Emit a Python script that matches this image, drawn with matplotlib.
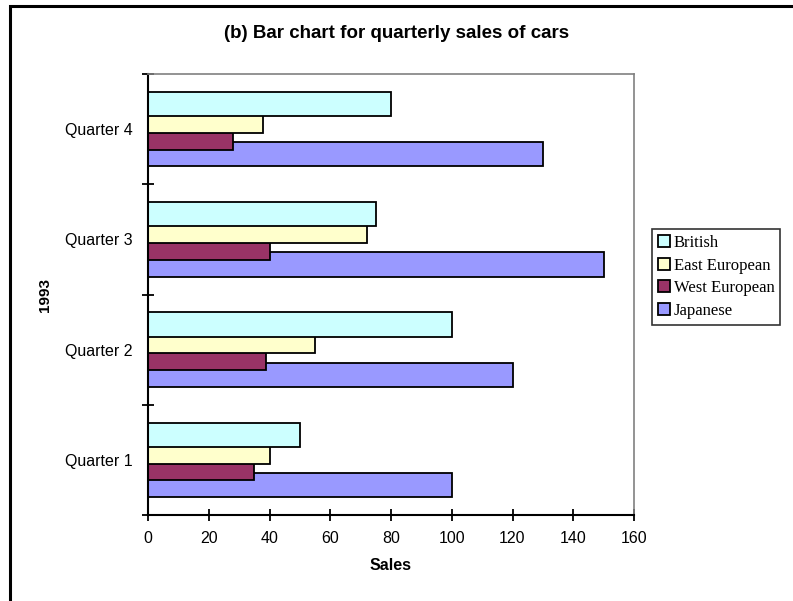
import matplotlib
matplotlib.use("Agg")
import matplotlib.pyplot as plt
import numpy as np
from matplotlib.patches import Rectangle

quarters = ['Quarter 1', 'Quarter 2', 'Quarter 3', 'Quarter 4']
british = [50, 100, 75, 80]
east_european = [40, 55, 72, 38]
west_european = [35, 39, 40, 28]
japanese = [100, 120, 150, 130]

# drawn bottom-up, later series sit on top (overlapping bars like Excel)
series = [
    ('Japanese', japanese, '#9999ff', -1.5),
    ('West European', west_european, '#993366', -0.5),
    ('East European', east_european, '#ffffcc', 0.5),
    ('British', british, '#ccffff', 1.5),
]

plt.rcParams['font.family'] = ['Liberation Sans', 'DejaVu Sans']

fig = plt.figure(figsize=(7.93, 6.01), dpi=100)
ax = fig.add_axes([148 / 793, 1 - 515 / 601, (634 - 148) / 793, (515 - 74) / 601])

y = np.arange(len(quarters))
pitch = 0.152
height = 0.22
handles = {}
for name, vals, color, off in series:
    bars = ax.barh(y + off * pitch, vals, height=height, color=color,
                   edgecolor='black', linewidth=1.3, label=name)
    handles[name] = bars

ax.set_xlim(0, 160)
ax.set_ylim(-0.5, 3.5)
ax.set_xticks(np.arange(0, 161, 20))
ax.set_yticks(np.arange(-0.5, 3.6, 1.0))
ax.set_yticklabels([])
ax.set_yticks(y, minor=True)
ax.set_yticklabels(quarters, minor=True)
ax.tick_params(axis='y', which='minor', length=0, pad=11, labelsize=11.5)
ax.tick_params(axis='both', which='major', direction='inout', length=9, width=1.3, labelsize=11.5)
ax.tick_params(axis='x', pad=7)

for side in ['left', 'bottom']:
    ax.spines[side].set_linewidth(1.5)
for side in ['top', 'right']:
    ax.spines[side].set_color('#808080')
    ax.spines[side].set_linewidth(1.2)

ax.set_xlabel('Sales', fontsize=11.5, fontweight='bold', labelpad=9)
ax.set_ylabel('1993', fontsize=11, fontweight='bold', labelpad=9)
fig.text(0.5, 1 - 34 / 601, '(b) Bar chart for quarterly sales of cars',
         ha='center', va='center', fontsize=13.5, fontweight='bold')

order = ['British', 'East European', 'West European', 'Japanese']
leg = fig.legend([handles[n] for n in order], order, loc='upper left',
                 bbox_to_anchor=(652 / 793, 1 - 229 / 601),
                 prop={'family': 'Liberation Serif', 'size': 12},
                 frameon=True, fancybox=False, edgecolor='black',
                 handlelength=0.7, handleheight=0.7, handletextpad=0.25,
                 borderpad=0.35, labelspacing=0.4, borderaxespad=0)
leg.get_frame().set_linewidth(1.2)

fig.patches.append(Rectangle((10 / 793, -0.1), 1.2, 1 - 6 / 601 + 0.1,
                             transform=fig.transFigure, fill=False,
                             edgecolor='black', linewidth=2.2))

fig.savefig('out.png', dpi=100)
